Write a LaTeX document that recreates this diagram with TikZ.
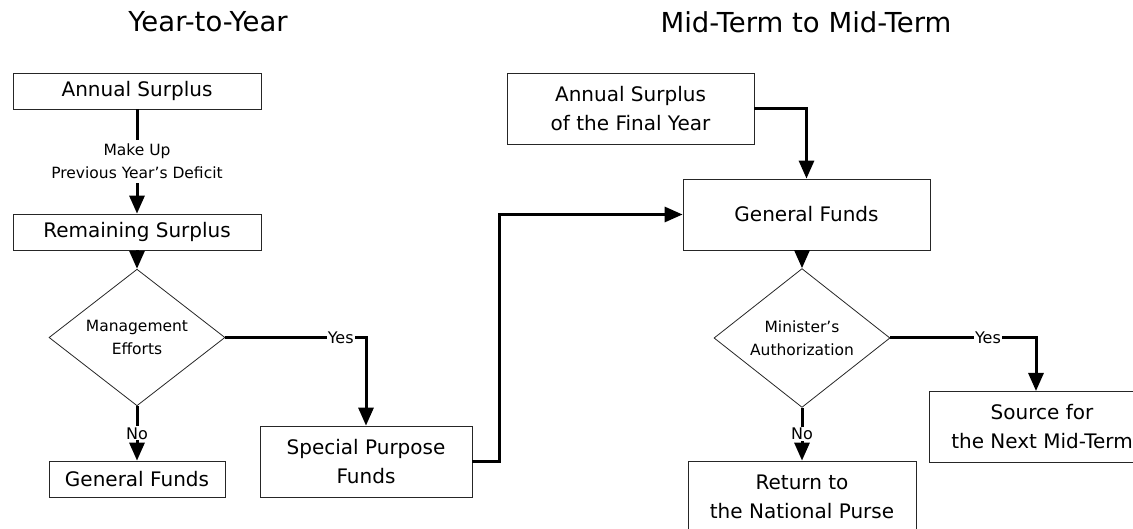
\documentclass[tikz,border=0pt]{standalone}
\usepackage{fontspec}
\setmainfont{DejaVu Sans}
\usetikzlibrary{arrows.meta,shapes.geometric}

\tikzset{
  box/.style={draw=black!85, line width=0.8pt, align=center, inner sep=0pt,
    font=\fontsize{20}{29}\selectfont},
  choice/.style={diamond, draw=black!85, line width=0.8pt, align=center, inner sep=0pt,
    minimum width=176pt, minimum height=105pt, font=\fontsize{15.5}{23}\selectfont},
  flow/.style={line width=3pt, -{Triangle[length=18pt,width=15pt]}},
  lbl/.style={fill=white, inner sep=1pt, align=center, font=\fontsize{16}{23}\selectfont},
  heading/.style={font=\fontsize{27.5}{30}\selectfont},
}

\begin{document}
\begin{tikzpicture}[x=1pt, y=-1pt]
		%%%%% START %%%%%
		\useasboundingbox (0, 0) rectangle (1133, 529);
		
		\node[heading] (hyear) at (208, 22) {Year-to-Year};
		\node[heading] (hmid) at (806, 22) {Mid-Term to Mid-Term};
		
		%%%%% YEAR TO YEAR %%%%%
		\node[box, minimum width=248pt, minimum height=36pt] (surplus) at (137, 91) {Annual Surplus};
		\node[box, minimum width=248pt, minimum height=36pt] (remain) at (137, 232) {Remaining Surplus};
		\node[choice] (effort) at (137, 337.5) {Management\\Efforts};
		\node[box, minimum width=176pt, minimum height=36pt] (genleft) at (137, 479) {General Funds};
		\node[box, minimum width=212pt, minimum height=71pt] (special) at (366, 461.5) {Special Purpose\\Funds};
		
		\draw[flow] (surplus) -- node[lbl, inner sep=4pt, font=\fontsize{15.5}{23}\selectfont] {Make Up\\Previous Year’s Deficit} (remain);
		\draw[flow] (remain) -- (effort);
		\draw[flow] (effort.east) -- node[lbl, pos=0.82] {Yes} (special.north |- effort.east) -- (special.north);
		\draw[flow] (effort.south) -- node[lbl] {No} (genleft.north);
		
		%%%%% MID TERM TO MID TERM %%%%%
		\node[box, minimum width=247pt, minimum height=71pt] (finalyr) at (630.5, 108.5) {Annual Surplus\\of the Final Year};
		\node[box, minimum width=247pt, minimum height=71pt] (genright) at (806.5, 214.5) {General Funds};
		\node[choice] (minister) at (802, 338) {Minister’s\\Authorization};
		\node[box, minimum width=226pt, minimum height=71pt] (source) at (1042, 426.5) {Source for\\the Next Mid-Term};
		\node[box, minimum width=228pt, minimum height=72pt] (purse) at (802, 497) {Return to\\the National Purse};
		\coordinate (drop) at (1036, 391);
		
		\draw[flow] (special.east) -- ++(27, 0) |- (genright.west);
		\draw[flow] (finalyr.east) -| (genright.north);
		\draw[flow] (genright.south -| minister.north) -- (minister.north);
		\draw[flow] (minister.east) -- node[lbl, pos=0.67] {Yes} (drop |- minister.east) -- (drop);
		\draw[flow] (minister.south) -- node[lbl] {No} (purse.north);
		
		%%%%% END %%%%%
\end{tikzpicture}
\end{document}
